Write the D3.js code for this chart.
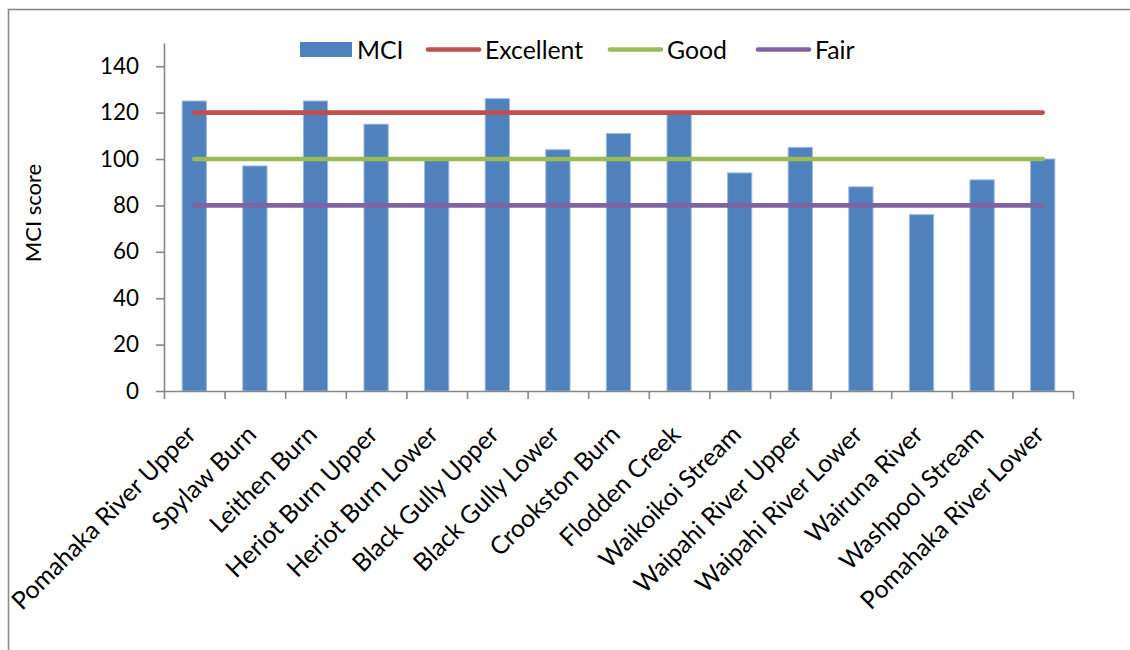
<!DOCTYPE html>
<html>
<head>
<meta charset="utf-8">
<script src="https://cdn.jsdelivr.net/npm/d3@7"></script>
<style>
  html, body { margin: 0; padding: 0; background: #fff; }
  svg { display: block; font-family: Lato, "Open Sans", sans-serif; }
</style>
</head>
<body>
<svg id="chart" width="1130" height="650"></svg>
<script>
const categories = [
  "Pomahaka River Upper", "Spylaw Burn", "Leithen Burn", "Heriot Burn Upper",
  "Heriot Burn Lower", "Black Gully Upper", "Black Gully Lower", "Crookston Burn",
  "Flodden Creek", "Waikoikoi Stream", "Waipahi River Upper", "Waipahi River Lower",
  "Wairuna River", "Washpool Stream", "Pomahaka River Lower"
];
const mciValues = [125, 97, 125, 115, 100, 126, 104, 111, 120, 94, 105, 88, 76, 91, 100];
const thresholdNames = ["Excellent", "Good", "Fair"];
const thresholdValues = [120, 100, 80];
const thresholdColors = ["#C0504D", "#9BBB59", "#8064A2"];
const yTicks = [0, 20, 40, 60, 80, 100, 120, 140];
const yMax = 150;
const yTitle = "MCI score";
const barName = "MCI";
const barColor = "#4F81BD";

const svg = d3.select("#chart");
const labelSize = 24.8;
const tickSize = 22.4;
const titleSize = 22;
const axisColor = "#868686";

// outer frame
svg.append("rect")
  .attr("x", 8.5).attr("y", 9.5)
  .attr("width", 1200).attr("height", 800)
  .attr("fill", "none").attr("stroke", "#8a8a8a").attr("stroke-width", 1.6);

const plot = { left: 164, right: 1073, top: 43, bottom: 391 };

const x = d3.scaleBand().domain(categories)
  .range([plot.left, plot.right]).paddingInner(0.6).paddingOuter(0.3);
const xEdges = d3.scaleLinear().domain([0, categories.length]).range([plot.left, plot.right]);
const y = d3.scaleLinear().domain([0, yMax]).range([plot.bottom, plot.top]);

// bars
svg.append("g").selectAll("rect").data(categories).join("rect")
  .attr("x", d => x(d))
  .attr("y", (d, i) => y(mciValues[i]))
  .attr("width", x.bandwidth())
  .attr("height", (d, i) => y(0) - y(mciValues[i]))
  .attr("fill", barColor)
  .attr("stroke", "#9DB9DE").attr("stroke-width", 1);

// threshold lines
const line = d3.line().x(d => x(d.c) + x.bandwidth() / 2).y(d => y(d.v));
thresholdValues.forEach((v, k) => {
  svg.append("path")
    .datum(categories.map(c => ({ c, v })))
    .attr("d", line)
    .attr("fill", "none")
    .attr("stroke", thresholdColors[k])
    .attr("stroke-width", 4.6)
    .attr("stroke-linecap", "round");
});

// y axis
const yAxis = svg.append("g")
  .attr("transform", `translate(${plot.left},0)`)
  .call(d3.axisLeft(y).tickValues(yTicks).tickSize(8).tickPadding(17).tickSizeOuter(0));
yAxis.select(".domain").attr("stroke", axisColor).attr("stroke-width", 1.6);
yAxis.selectAll(".tick line").attr("stroke", axisColor).attr("stroke-width", 1.6);
yAxis.selectAll(".tick text").attr("font-size", tickSize).attr("fill", "#000")
  .attr("font-family", "Lato, sans-serif");

// x axis (ticks at category boundaries)
const xAxis = svg.append("g")
  .attr("transform", `translate(0,${plot.bottom})`)
  .call(d3.axisBottom(xEdges).tickValues(d3.range(categories.length + 1))
    .tickFormat("").tickSize(8).tickSizeOuter(0));
xAxis.select(".domain").attr("stroke", axisColor).attr("stroke-width", 1.6);
xAxis.selectAll(".tick line").attr("stroke", axisColor).attr("stroke-width", 1.6);

// category labels
svg.append("g").selectAll("text").data(categories).join("text")
  .attr("transform", d => `translate(${x(d) + x.bandwidth() / 2 + 3},${436}) rotate(-45)`)
  .attr("text-anchor", "end")
  .attr("font-size", labelSize)
  .attr("fill", "#000")
  .text(d => d);

// y title
svg.append("text")
  .attr("transform", "translate(41,213) rotate(-90)")
  .attr("text-anchor", "middle")
  .attr("font-size", titleSize)
  .attr("fill", "#000")
  .text(yTitle);

// legend
const legend = svg.append("g");
const legendY = 49.5;
const legendXs = [300, 426, 608, 756];
legend.append("rect").attr("x", legendXs[0]).attr("y", legendY - 7.5).attr("width", 52).attr("height", 15)
  .attr("fill", barColor);
legend.append("text").attr("x", legendXs[0] + 57).attr("y", legendY + 9)
  .attr("font-size", labelSize).attr("fill", "#000").text(barName);
thresholdNames.forEach((name, k) => {
  const lx = legendXs[k + 1];
  legend.append("line")
    .attr("x1", lx + 2).attr("x2", lx + 53)
    .attr("y1", legendY).attr("y2", legendY)
    .attr("stroke", thresholdColors[k]).attr("stroke-width", 4.6)
    .attr("stroke-linecap", "round");
  legend.append("text").attr("x", lx + 59).attr("y", legendY + 9)
    .attr("font-size", labelSize).attr("fill", "#000").text(name);
});
</script>
</body>
</html>
